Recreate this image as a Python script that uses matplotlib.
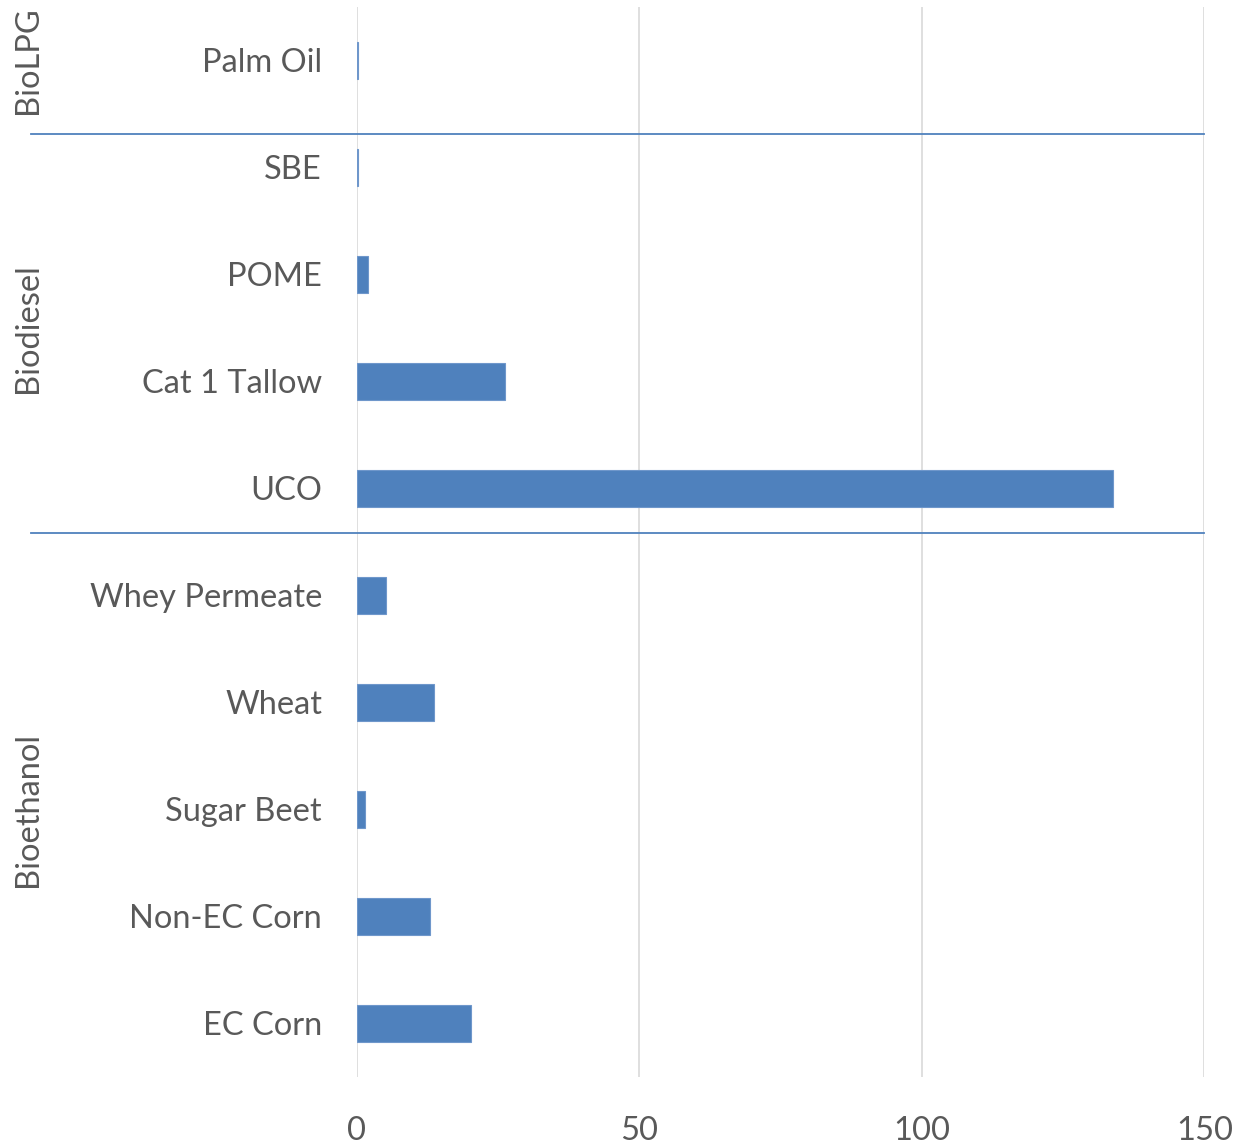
import matplotlib
matplotlib.use('Agg')
import matplotlib.pyplot as plt

# feedstock categories, top to bottom
feedstocks = ['Palm Oil', 'SBE', 'POME', 'Cat 1 Tallow', 'UCO',
              'Whey Permeate', 'Wheat', 'Sugar Beet', 'Non-EC Corn', 'EC Corn']
values = [0.2, 0.2, 1.9, 26.2, 133.9, 5.1, 13.6, 1.4, 12.9, 20.2]

# fuel groups: name and (first, last) index into feedstocks
groups = ['BioLPG', 'Biodiesel', 'Bioethanol']
group_spans = [(0, 0), (1, 4), (5, 9)]

plt.rcParams['font.family'] = ['Lato', 'DejaVu Sans']
grey = '#595959'
blue = '#4F81BD'

fig = plt.figure(figsize=(12.39, 11.45), dpi=100)
ax = fig.add_axes([0.288, 0.0594, 0.684, 0.9345])

ypos = list(range(len(feedstocks)))
ax.barh(ypos, values, height=0.34, color=blue, edgecolor='#6f97cb',
        linewidth=0.8, zorder=3)

ax.set_ylim(len(feedstocks) - 0.5, -0.5)
ax.set_xlim(0, 150)
ax.set_xticks([0, 50, 100, 150])
ax.set_yticks(ypos)
ax.set_yticklabels(feedstocks)
ax.tick_params(axis='y', length=0, pad=25, labelsize=23.5, labelcolor=grey)
ax.tick_params(axis='x', length=0, pad=28, labelsize=23.5, labelcolor=grey)
ax.grid(axis='x', color='#d9d9d9', linewidth=1.2, zorder=0)
for s in ax.spines.values():
    s.set_visible(False)

# group separators and rotated group names
breaks = [0.69, 4.42]
for b in breaks:
    ax.plot([-0.385, 1.0], [b, b], transform=ax.get_yaxis_transform(),
            color=blue, linewidth=1.3, clip_on=False, zorder=4)

for name, (a, b) in zip(groups, group_spans):
    ax.text(-0.388, (a + b) / 2, name, transform=ax.get_yaxis_transform(),
            rotation=90, ha='center', va='center', fontsize=23.5, color=grey)

fig.savefig('out.png', dpi=100, facecolor='white')
